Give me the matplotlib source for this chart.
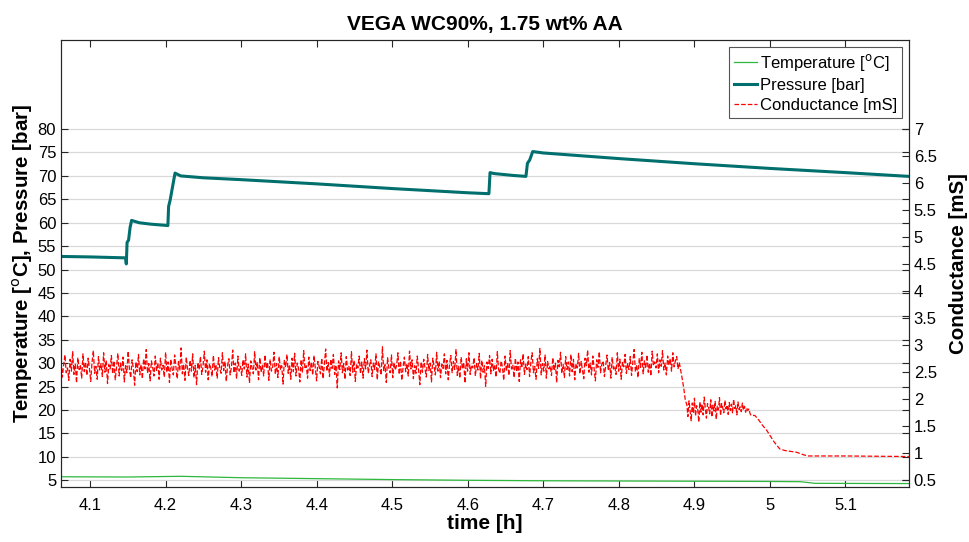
import numpy as np
import matplotlib
matplotlib.use('Agg')
from matplotlib import pyplot as plt

plt.rcParams['font.family'] = ['Liberation Sans', 'DejaVu Sans']

# pressure [bar]
p_time = [4.0616, 4.10, 4.147, 4.148, 4.149, 4.151, 4.153, 4.155, 4.165, 4.18, 4.203,
          4.204, 4.206, 4.209, 4.2125, 4.22, 4.25, 4.30, 4.40, 4.50, 4.60, 4.628,
          4.6295, 4.635, 4.66, 4.677, 4.679, 4.682, 4.686, 4.70, 4.80, 4.90, 5.00,
          5.10, 5.184]
p_val = [52.8, 52.7, 52.5, 51.2, 55.8, 56.3, 59.0, 60.5, 60.0, 59.7, 59.4,
         63.5, 64.8, 67.5, 70.6, 70.0, 69.6, 69.2, 68.3, 67.3, 66.4, 66.2,
         70.7, 70.5, 70.1, 69.9, 72.7, 73.4, 75.2, 74.9, 73.7, 72.6, 71.6,
         70.7, 69.9]

# temperature [oC]
t_time = [4.0616, 4.15, 4.22, 4.30, 4.40, 4.50, 4.60, 4.70, 4.80, 4.90, 5.00, 5.04, 5.06, 5.184]
t_val = [5.75, 5.70, 5.85, 5.55, 5.35, 5.15, 5.00, 4.90, 4.85, 4.80, 4.75, 4.70, 4.35, 4.30]

# conductance [mS] - first noisy plateau (4.0616 .. 4.880 h)
c_noise1 = [
    2.70, 2.41, 2.63, 2.82, 2.49, 2.58, 2.35, 2.74, 2.52, 2.88, 2.46, 2.65, 2.30, 2.77, 2.55, 2.62, 2.39, 2.84, 2.51, 2.69,
    2.44, 2.76, 2.57, 2.33, 2.68, 2.90, 2.48, 2.61, 2.37, 2.79, 2.54, 2.66, 2.42, 2.86, 2.50, 2.72, 2.29, 2.64, 2.56, 2.81,
    2.47, 2.71, 2.36, 2.60, 2.85, 2.43, 2.67, 2.53, 2.78, 2.32, 2.62, 2.49, 2.89, 2.55, 2.40, 2.73, 2.58, 2.26, 2.69, 2.51,
    2.83, 2.45, 2.64, 2.38, 2.75, 2.56, 2.92, 2.48, 2.66, 2.34, 2.71, 2.59, 2.43, 2.80, 2.52, 2.67, 2.37, 2.76, 2.54, 2.63,
    2.41, 2.87, 2.50, 2.69, 2.31, 2.74, 2.57, 2.45, 2.82, 2.60, 2.38, 2.70, 2.53, 2.95, 2.47, 2.65, 2.35, 2.78, 2.56, 2.44,
    2.72, 2.52, 2.84, 2.40, 2.63, 2.27, 2.68, 2.55, 2.79, 2.46, 2.61, 2.89, 2.50, 2.73, 2.36, 2.66, 2.58, 2.42, 2.81, 2.54,
    2.64, 2.39, 2.77, 2.57, 2.48, 2.86, 2.53, 2.70, 2.33, 2.62, 2.75, 2.45, 2.59, 2.91, 2.49, 2.67, 2.38, 2.80, 2.52, 2.61,
    2.44, 2.73, 2.56, 2.84, 2.41, 2.65, 2.30, 2.71, 2.58, 2.47, 2.88, 2.54, 2.69, 2.36, 2.77, 2.50, 2.63, 2.43, 2.82, 2.57,
    2.68, 2.35, 2.74, 2.52, 2.60, 2.87, 2.46, 2.66, 2.40, 2.79, 2.55, 2.62, 2.28, 2.72, 2.59, 2.83, 2.48, 2.64, 2.37, 2.76,
    2.51, 2.85, 2.43, 2.67, 2.57, 2.32, 2.73, 2.49, 2.90, 2.56, 2.62, 2.39, 2.78, 2.53, 2.69, 2.45, 2.81, 2.58, 2.34, 2.70,
    2.60, 2.47, 2.76, 2.38, 2.64, 2.93, 2.52, 2.68, 2.42, 2.74, 2.57, 2.83, 2.46, 2.63, 2.21, 2.71, 2.55, 2.86, 2.49, 2.66,
    2.37, 2.79, 2.54, 2.61, 2.44, 2.88, 2.50, 2.72, 2.33, 2.65, 2.58, 2.80, 2.47, 2.69, 2.39, 2.75, 2.56, 2.91, 2.48, 2.62,
    2.73, 2.42, 2.67, 2.55, 2.84, 2.36, 2.70, 2.59, 2.45, 2.97, 2.53, 2.64, 2.31, 2.77, 2.57, 2.49, 2.82, 2.40, 2.68, 2.54,
    2.63, 2.86, 2.46, 2.71, 2.35, 2.59, 2.78, 2.51, 2.66, 2.43, 2.89, 2.56, 2.73, 2.38, 2.62, 2.48, 2.80, 2.55, 2.27, 2.69,
    2.50, 2.74, 2.58, 2.41, 2.83, 2.53, 2.67, 2.32, 2.76, 2.60, 2.45, 2.87, 2.52, 2.70, 2.40, 2.65, 2.57, 2.84, 2.47, 2.72,
    2.36, 2.64, 2.81, 2.49, 2.70, 2.55, 2.92, 2.44, 2.61, 2.39, 2.78, 2.56, 2.68, 2.30, 2.75, 2.52, 2.86, 2.46, 2.63, 2.58,
    2.77, 2.43, 2.66, 2.54, 2.85, 2.38, 2.72, 2.50, 2.62, 2.24, 2.69, 2.57, 2.81, 2.47, 2.74, 2.53, 2.64, 2.41, 2.88, 2.55,
    2.48, 2.71, 2.59, 2.35, 2.80, 2.52, 2.67, 2.44, 2.90, 2.56, 2.63, 2.40, 2.76, 2.51, 2.69, 2.33, 2.73, 2.58, 2.84, 2.46,
    2.65, 2.55, 2.79, 2.42, 2.68, 2.86, 2.49, 2.61, 2.37, 2.75, 2.57, 2.94, 2.45, 2.66, 2.52, 2.82, 2.39, 2.70, 2.56, 2.62,
    2.44, 2.77, 2.53, 2.67, 2.31, 2.72, 2.60, 2.87, 2.48, 2.64, 2.40, 2.79, 2.55, 2.69, 2.43, 2.83, 2.51, 2.74, 2.36, 2.66,
    2.58, 2.85, 2.47, 2.70, 2.54, 2.38, 2.76, 2.62, 2.91, 2.50, 2.67, 2.45, 2.80, 2.57, 2.34, 2.73, 2.59, 2.88, 2.49, 2.65,
    2.71, 2.42, 2.63, 2.82, 2.53, 2.68, 2.39, 2.78, 2.56, 2.61, 2.46, 2.86, 2.52, 2.74, 2.37, 2.69, 2.60, 2.83, 2.48, 2.66,
    2.55, 2.79, 2.44, 2.68, 2.92, 2.51, 2.64, 2.40, 2.76, 2.59, 2.87, 2.47, 2.71, 2.57, 2.82, 2.50, 2.67, 2.43, 2.89, 2.62,
    2.69, 2.58, 2.84, 2.49, 2.73, 2.61, 2.90, 2.54, 2.67, 2.45, 2.80, 2.63, 2.75, 2.52, 2.86, 2.60, 2.71, 2.79, 2.56, 2.68,
]
# drop between plateaus
c_drop_time = [4.883, 4.886, 4.888]
c_drop = [2.45, 2.20, 1.98]
# second noisy plateau (4.890 .. 4.975 h)
c_noise2 = [
    1.90, 1.68, 1.97, 1.79, 1.60, 1.93, 1.74, 2.02, 1.69, 1.88, 1.81, 1.58, 1.95, 1.76, 1.91, 1.71, 2.04, 1.83, 1.65, 1.92,
    1.85, 1.73, 1.99, 1.67, 1.89, 1.78, 1.96, 1.63, 1.87, 1.80, 2.03, 1.70, 1.92, 1.84, 1.75, 1.98, 1.82, 1.89, 1.72, 1.94,
    1.79, 1.91, 1.74, 2.00, 1.83, 1.88, 1.71, 1.95, 1.81, 1.86, 1.77, 1.93, 1.80, 1.87, 1.76, 1.84, 1.79, 1.82, 1.74, 1.70,
]
# decay to the final level
c_tail_time = [4.980, 4.985, 4.990, 4.996, 5.005, 5.013, 5.020, 5.035, 5.045, 5.050, 5.100, 5.184]
c_tail = [1.70, 1.62, 1.52, 1.42, 1.22, 1.08, 1.05, 1.02, 0.97, 0.95, 0.95, 0.94]

c_time = np.concatenate([np.linspace(4.0616, 4.880, len(c_noise1)), c_drop_time,
                         np.linspace(4.890, 4.975, len(c_noise2)), c_tail_time])
c_val = np.concatenate([c_noise1, c_drop, c_noise2, c_tail])

left_ticks = [5, 10, 15, 20, 25, 30, 35, 40, 45, 50, 55, 60, 65, 70, 75, 80]
right_ticks = [0.5, 1, 1.5, 2, 2.5, 3, 3.5, 4, 4.5, 5, 5.5, 6, 6.5, 7]
right_labels = ['0.5', '1', '1.5', '2', '2.5', '3', '3.5', '4', '4.5', '5', '5.5', '6', '6.5', '7']
x_ticks = [4.1, 4.2, 4.3, 4.4, 4.5, 4.6, 4.7, 4.8, 4.9, 5.0, 5.1]
x_labels = ['4.1', '4.2', '4.3', '4.4', '4.5', '4.6', '4.7', '4.8', '4.9', '5', '5.1']

dark = '#262626'
fig = plt.figure(figsize=(9.69, 5.42), dpi=100)
ax = fig.add_axes([0.063, 0.1015, 0.875, 0.8245])
ax2 = ax.twinx()

l_t, = ax.plot(t_time, t_val, color='#2db83d', linewidth=0.9, label='Temperature [$^{\\rm o}$C]')
l_p, = ax.plot(p_time, p_val, color='#006f6e', linewidth=2.2, label='Pressure [bar]')
l_c, = ax2.plot(c_time, c_val, color='#ff0000', linewidth=0.9, linestyle='--', label='Conductance [mS]')

ax.set_xlim(4.0616, 5.184)
ax.set_ylim(3.57, 99.0)
ax2.set_ylim(0.376, 8.647)
ax.set_yticks(left_ticks)
ax2.set_yticks(right_ticks)
ax2.set_yticklabels(right_labels)
ax.set_xticks(x_ticks)
ax.set_xticklabels(x_labels)

ax.grid(axis='y', color='#d9d9d9', linewidth=0.9)
ax.set_axisbelow(True)

ax.tick_params(axis='both', direction='in', length=5, width=0.8, color=dark,
               labelsize=12, labelcolor='black', top=True, right=True)
ax.tick_params(axis='x', pad=8)
ax2.tick_params(axis='y', direction='in', length=5, width=0.8, color=dark,
                labelsize=12, labelcolor='black')
for a in (ax, ax2):
    for s in a.spines.values():
        s.set_color(dark)
        s.set_linewidth(0.8)

ax.set_title('VEGA WC90%, 1.75 wt% AA', fontsize=15, fontweight='bold', pad=7)
ax.set_xlabel('time [h]', fontsize=15, fontweight='bold', labelpad=1)
ax.set_ylabel('Temperature [$^{\\rm o}$C], Pressure [bar]', fontsize=14.8, fontweight='bold', labelpad=2)
ax2.set_ylabel('Conductance [mS]', fontsize=14.8, fontweight='bold', labelpad=9)

leg = ax2.legend(handles=[l_t, l_p, l_c], loc='upper right', fontsize=12, fancybox=False,
                 framealpha=1, edgecolor='#555555', borderaxespad=0.4, handlelength=1.35,
                 handletextpad=0.2, borderpad=0.3, labelspacing=0.3)
leg.get_frame().set_linewidth(0.8)

fig.savefig('out.png', dpi=100)
